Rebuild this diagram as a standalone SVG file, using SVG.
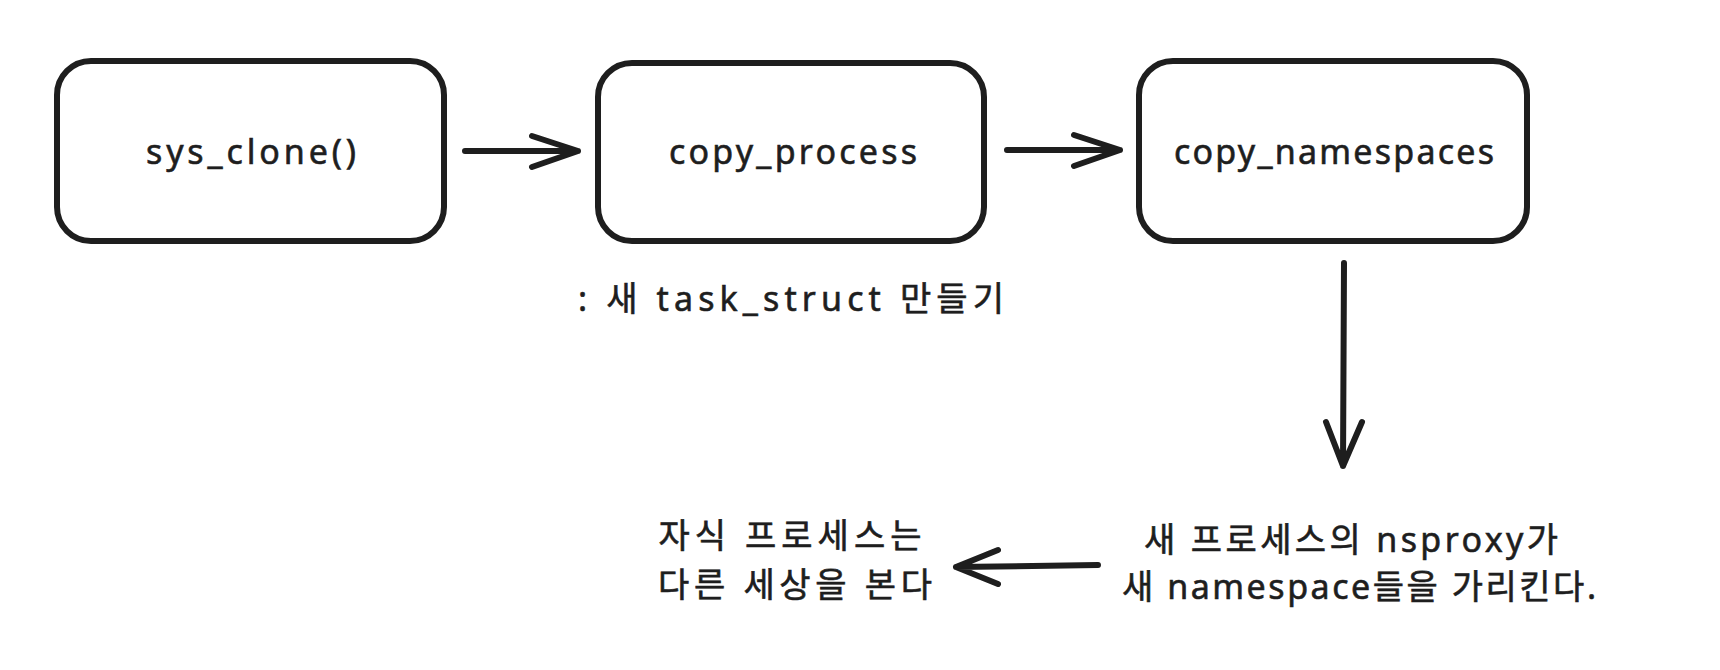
<svg xmlns="http://www.w3.org/2000/svg" width="1720" height="670" viewBox="0 0 1720 670">
<style>
.box{fill:#ffffff;stroke:#1e1e1e;stroke-width:6}
.t{font-family:"Noto Sans","Noto Sans CJK KR",sans-serif;fill:#1e1e1e;stroke:#1e1e1e;stroke-width:0.6;font-size:34px;text-anchor:middle;dominant-baseline:central}
.k{font-family:"Noto Sans","Noto Sans CJK KR",sans-serif;fill:#1e1e1e;stroke:#1e1e1e;stroke-width:0.6;font-size:34px;text-anchor:middle;dominant-baseline:central}
.c{fill:none;stroke:#1e1e1e;stroke-width:6;stroke-linecap:round;stroke-linejoin:round}
</style>
<rect width="1720" height="670" fill="#ffffff"/>
<g id="node-sys-clone">
<rect class="box" x="57" y="61" width="387" height="180" rx="34"/>
<text class="t" x="251" y="151" textLength="210" lengthAdjust="spacing">sys_clone()</text>
</g>
<g id="node-copy-process">
<rect class="box" x="598" y="63" width="386" height="178" rx="34"/>
<text class="t" x="793" y="151" textLength="248" lengthAdjust="spacing">copy_process</text>
</g>
<g id="node-copy-namespaces">
<rect class="box" x="1139" y="61" width="388" height="180" rx="34"/>
<text class="t" x="1334" y="151" textLength="320" lengthAdjust="spacing">copy_namespaces</text>
</g>
<g id="note-task-struct">
<text class="k" x="791" y="298" textLength="426" lengthAdjust="spacing">: 새 task_struct 만들기</text>
</g>
<g id="note-nsproxy">
<text class="k" x="1351" y="539" textLength="414" lengthAdjust="spacing">새 프로세스의 nsproxy가</text>
<text class="k" x="1359" y="586" textLength="474" lengthAdjust="spacing">새 namespace들을 가리킨다.</text>
</g>
<g id="note-child">
<text class="k" x="790" y="535" textLength="263" lengthAdjust="spacing">자식 프로세스는</text>
<text class="k" x="795" y="584" textLength="274" lengthAdjust="spacing">다른 세상을 본다</text>
</g>
<g id="connectors">
<path class="c" d="M465 151 L578 151 M532 136 L578 151 L532 167"/>
<path class="c" d="M1007 150 L1120 150 M1074 135 L1120 150 L1074 166"/>
<path class="c" d="M1344 263 L1343 466 M1326 422 L1343 466 L1362 422"/>
<path class="c" d="M1098 565 L956 567 M998 550 L956 567 L998 584"/>
</g>
</svg>
